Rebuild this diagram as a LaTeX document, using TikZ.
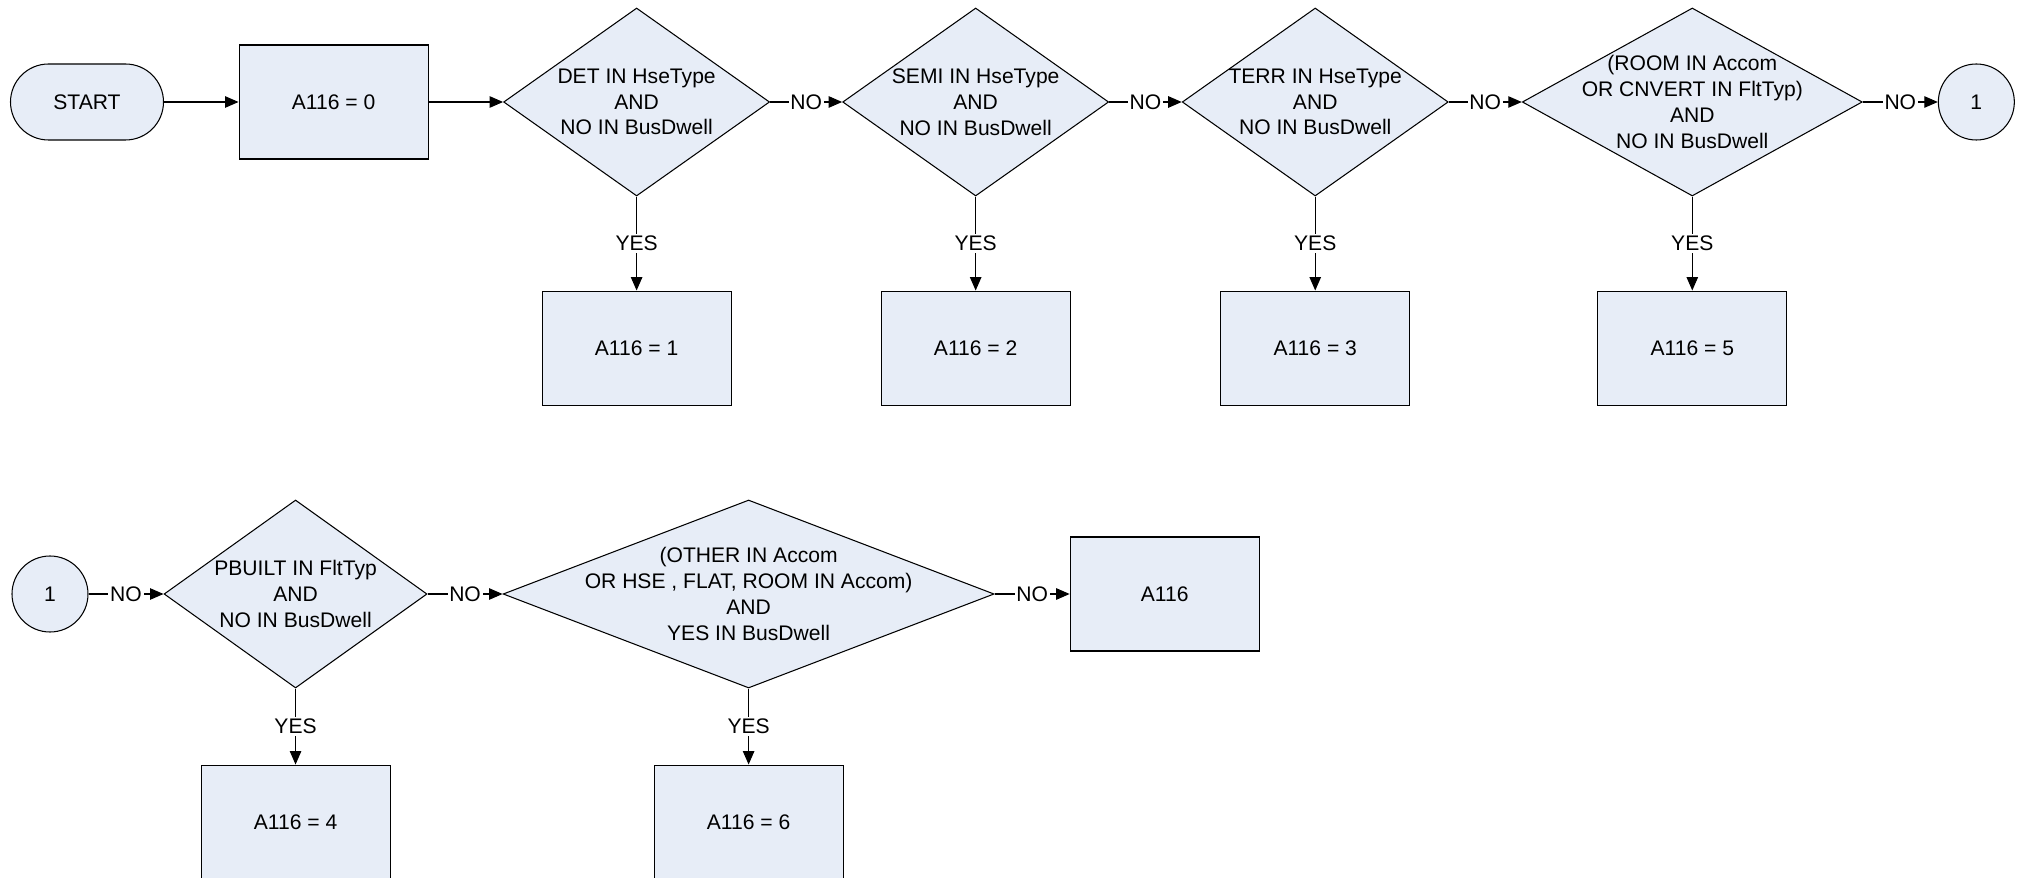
\documentclass[tikz,border=0pt]{standalone}
\usepackage{fontspec}
\setmainfont{Liberation Sans}
\usetikzlibrary{positioning, arrows.meta, shapes.geometric}
\definecolor{boxfill}{RGB}{231,237,247}

\begin{document}
\begin{tikzpicture}[font=\fontsize{12}{14.7}\selectfont, >={Triangle[length=2.7mm, width=2.3mm]}, line width=0.6pt,
  term/.style={draw, fill=boxfill, rounded corners=0.76cm, minimum width=3.06cm, minimum height=1.52cm},
  act/.style={draw, fill=boxfill, minimum width=3.78cm, minimum height=2.28cm},
  dec/.style={draw, fill=boxfill, diamond, align=center, inner sep=-1.5cm, minimum height=3.76cm},
  conn/.style={draw, fill=boxfill, circle, minimum size=1.52cm, inner sep=0pt},
  lbl/.style={midway, fill=white, inner sep=1pt}]
  \useasboundingbox (0,0) rectangle (40.44,-17.56);
  % first row
  \node[term] (start) at (1.74,-2.04) {START};
  \node[act, right=1.49cm of start] (a0) {A116 = 0};
  \node[dec, minimum width=5.32cm, right=1.49cm of a0] (det) {DET IN HseType\\AND\\NO IN BusDwell};
  \node[dec, minimum width=5.32cm, right=1.44cm of det] (semi) {SEMI IN HseType\\AND\\NO IN BusDwell};
  \node[dec, minimum width=5.32cm, right=1.45cm of semi] (terr) {TERR IN HseType\\AND\\NO IN BusDwell};
  \node[dec, minimum width=6.8cm, right=1.46cm of terr] (room) {(ROOM IN Accom\\OR CNVERT IN FltTyp)\\AND\\NO IN BusDwell};
  \node[conn, right=1.5cm of room] (out1) {1};
  \node[act, below=1.88cm of det] (a1) {A116 = 1};
  \node[act, below=1.88cm of semi] (a2) {A116 = 2};
  \node[act, below=1.88cm of terr] (a3) {A116 = 3};
  \node[act, below=1.88cm of room] (a5) {A116 = 5};
  \draw[->] (start) -- (a0);
  \draw[->] (a0) -- (det);
  \draw[->] (det) -- node[lbl]{NO} (semi);
  \draw[->] (semi) -- node[lbl]{NO} (terr);
  \draw[->] (terr) -- node[lbl]{NO} (room);
  \draw[->] (room) -- node[lbl]{NO} (out1);
  \draw[->] (det) -- node[lbl]{YES} (a1);
  \draw[->] (semi) -- node[lbl]{YES} (a2);
  \draw[->] (terr) -- node[lbl]{YES} (a3);
  \draw[->] (room) -- node[lbl]{YES} (a5);
  % second row
  \node[conn] (in1) at (1.0,-11.88) {1};
  \node[dec, minimum width=5.26cm, right=1.5cm of in1] (pbuilt) {PBUILT IN FltTyp\\AND\\NO IN BusDwell};
  \node[dec, minimum width=9.82cm, right=1.5cm of pbuilt] (other) {(OTHER IN Accom\\OR HSE , FLAT, ROOM IN Accom)\\AND\\YES IN BusDwell};
  \node[act, right=1.5cm of other] (aend) {A116};
  \node[act, below=1.52cm of pbuilt] (a4) {A116 = 4};
  \node[act, below=1.52cm of other] (a6) {A116 = 6};
  \draw[->] (in1) -- node[lbl]{NO} (pbuilt);
  \draw[->] (pbuilt) -- node[lbl]{NO} (other);
  \draw[->] (other) -- node[lbl]{NO} (aend);
  \draw[->] (pbuilt) -- node[lbl]{YES} (a4);
  \draw[->] (other) -- node[lbl]{YES} (a6);
\end{tikzpicture}
\end{document}
